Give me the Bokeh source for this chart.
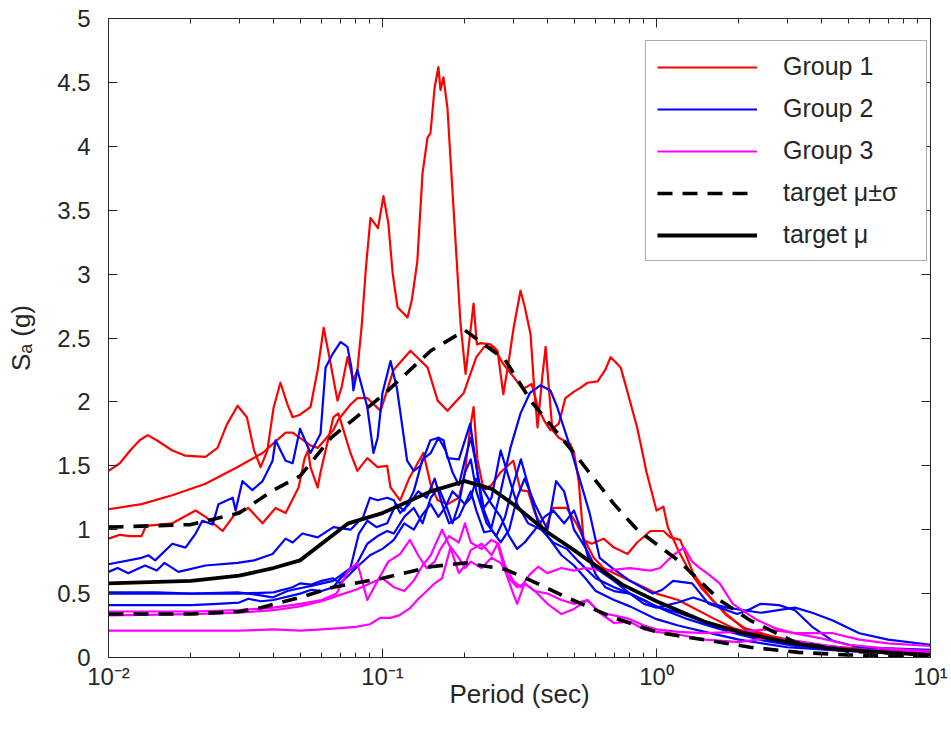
from bokeh.plotting import figure
from bokeh.models import (FixedTicker, LinearAxis, LogAxis, CustomJSTickFormatter,
                          Legend, LegendItem, Range1d)
from bokeh.embed import file_html
from bokeh.resources import INLINE

# ---------------- data: (period [s], Sa [g]) ----------------
group1_curve1 = [(0.010,1.46),(0.011,1.52),(0.012,1.62),(0.013,1.70),(0.0139,1.74),(0.015,1.70),(0.0171,1.62),(0.019,1.58),(0.0226,1.57),(0.025,1.64),(0.027,1.82),(0.0296,1.97),(0.032,1.88),(0.034,1.62),(0.0359,1.49),(0.038,1.62),(0.040,1.95),(0.0424,2.15),(0.045,1.98),(0.047,1.88),(0.050,1.90),(0.0546,1.96),(0.058,2.25),(0.061,2.58),(0.064,2.35),(0.0685,2.01),(0.071,2.12),(0.0745,2.35),(0.0783,2.17),(0.081,2.25),(0.084,2.6),(0.087,3.05),(0.0904,3.44),(0.0963,3.36),(0.1008,3.61),(0.105,3.4),(0.109,3.0),(0.1135,2.74),(0.1234,2.66),(0.128,2.8),(0.134,3.1),(0.140,3.79),(0.146,4.07),(0.1496,4.1),(0.155,4.46),(0.160,4.62),(0.1628,4.44),(0.1669,4.54),(0.1726,4.3),(0.177,3.91),(0.1816,3.52),(0.1927,2.61),(0.201,2.22),(0.208,2.5),(0.215,2.77),(0.221,2.45),(0.228,2.46),(0.248,2.45),(0.263,2.4),(0.276,2.06),(0.288,2.3),(0.301,2.58),(0.319,2.87),(0.330,2.75),(0.347,2.53),(0.358,2.1),(0.368,1.8),(0.383,2.2),(0.394,2.43),(0.405,2.1),(0.417,1.78),(0.44,1.72),(0.485,1.67),(0.50,1.6),(0.52,1.38),(0.542,0.92),(0.58,0.89),(0.641,0.93),(0.70,0.86),(0.784,0.81),(0.85,0.9),(0.95,0.99),(1.06,0.99),(1.125,0.94),(1.22,0.92),(1.36,0.66),(1.57,0.47),(1.8,0.33),(2.1,0.23),(2.6,0.17),(3.2,0.13),(4.2,0.09),(5.5,0.07),(7.5,0.05),(10,0.04)]
group1_curve2 = [(0.010,1.16),(0.0132,1.2),(0.0171,1.27),(0.0226,1.36),(0.0296,1.49),(0.0365,1.6),(0.0397,1.67),(0.0443,1.76),(0.047,1.76),(0.0546,1.66),(0.058,1.64),(0.0662,1.78),(0.069,1.86),(0.0764,1.98),(0.081,2.03),(0.088,2.03),(0.0984,1.93),(0.1097,2.25),(0.1265,2.4),(0.146,2.27),(0.159,2.01),(0.1726,1.93),(0.198,2.07),(0.22,2.35),(0.235,2.43),(0.255,2.43),(0.275,2.3),(0.3,2.2),(0.325,2.1),(0.35,2.14),(0.37,1.95),(0.39,1.85),(0.41,1.78),(0.44,1.83),(0.465,2.03),(0.5,2.08),(0.527,2.11),(0.56,2.15),(0.61,2.16),(0.65,2.25),(0.68,2.35),(0.71,2.31),(0.74,2.27),(0.79,2.05),(0.85,1.8),(0.92,1.45),(1.0,1.15),(1.06,1.18),(1.1,1.02),(1.2,0.84),(1.3,0.7),(1.45,0.55),(1.6,0.45),(1.8,0.34),(2.1,0.22),(2.6,0.16),(3.3,0.11),(4.5,0.07),(6.5,0.05),(10,0.03)]
group1_curve3 = [(0.010,0.93),(0.011,0.96),(0.012,0.95),(0.0132,0.95),(0.0137,1.03),(0.0171,1.05),(0.0208,1.15),(0.0226,1.10),(0.0261,0.99),(0.0291,1.13),(0.0324,1.17),(0.0365,1.05),(0.0407,1.17),(0.0443,1.13),(0.0494,1.33),(0.052,1.56),(0.0535,1.62),(0.0546,1.49),(0.058,1.33),(0.0594,1.45),(0.0662,1.88),(0.069,1.91),(0.0764,1.6),(0.081,1.46),(0.088,1.56),(0.096,1.49),(0.104,1.5),(0.107,1.33),(0.116,1.23),(0.125,1.4),(0.141,1.6),(0.15,1.35),(0.159,1.23),(0.173,1.2),(0.19,1.25),(0.2,1.45),(0.209,1.8),(0.215,1.96),(0.222,1.55),(0.234,1.31),(0.25,1.35),(0.27,1.45),(0.30,1.54),(0.319,1.31),(0.34,1.3),(0.36,1.13),(0.39,0.99),(0.42,1.17),(0.47,1.17),(0.51,1.05),(0.54,0.94),(0.59,0.78),(0.64,0.7),(0.7,0.66),(0.8,0.6),(0.9,0.55),(1.0,0.5),(1.2,0.45),(1.36,0.39),(1.6,0.31),(1.9,0.23),(2.5,0.16),(3.3,0.12),(5,0.07),(10,0.03)]

group2_curve1 = [(0.01,0.73),(0.0132,0.78),(0.014,0.8),(0.0148,0.76),(0.0171,0.89),(0.0191,0.86),(0.0208,0.97),(0.022,1.07),(0.024,1.04),(0.0252,1.2),(0.0284,1.25),(0.0291,1.15),(0.0308,1.38),(0.0335,1.31),(0.0365,1.38),(0.0397,1.54),(0.0407,1.7),(0.0443,1.54),(0.047,1.52),(0.05,1.79),(0.0546,1.6),(0.0594,1.75),(0.062,2.27),(0.066,2.38),(0.0703,2.47),(0.0745,2.43),(0.077,2.27),(0.0783,2.09),(0.081,2.25),(0.088,1.96),(0.0927,1.6),(0.096,1.72),(0.1,2.07),(0.107,2.32),(0.113,2.1),(0.123,1.54),(0.13,1.46),(0.1377,1.5),(0.1496,1.7),(0.16,1.72),(0.167,1.7),(0.1726,1.56),(0.19,1.55),(0.209,1.83),(0.22,1.5),(0.234,1.17),(0.25,1.25),(0.27,1.62),(0.29,1.4),(0.31,1.2),(0.34,1.05),(0.38,1.0),(0.42,0.9),(0.47,0.85),(0.52,0.75),(0.6,0.62),(0.7,0.55),(0.8,0.5),(0.95,0.42),(1.1,0.36),(1.3,0.3),(1.6,0.24),(2.0,0.18),(2.5,0.13),(3.2,0.09),(4.5,0.06),(6.5,0.04),(10,0.03)]
group2_curve2 = [(0.01,0.67),(0.0108,0.7),(0.0118,0.66),(0.0136,0.72),(0.015,0.68),(0.016,0.74),(0.018,0.67),(0.0226,0.72),(0.0296,0.74),(0.034,0.76),(0.0397,0.81),(0.0443,0.93),(0.047,0.9),(0.051,0.97),(0.058,0.94),(0.0662,1.02),(0.0764,1.0),(0.085,1.1),(0.09,1.25),(0.096,1.23),(0.104,1.25),(0.11,1.23),(0.116,1.13),(0.125,1.2),(0.135,1.3),(0.145,1.25),(0.155,1.4),(0.165,1.2),(0.175,1.05),(0.19,1.1),(0.21,1.3),(0.22,1.15),(0.235,0.98),(0.248,0.99),(0.27,1.3),(0.293,1.64),(0.319,1.91),(0.345,2.07),(0.377,2.13),(0.41,2.09),(0.434,1.96),(0.485,1.64),(0.527,1.38),(0.57,1.13),(0.62,0.78),(0.69,0.7),(0.8,0.6),(0.97,0.5),(1.05,0.53),(1.15,0.6),(1.35,0.58),(1.55,0.42),(1.97,0.34),(2.2,0.38),(2.4,0.42),(2.8,0.41),(3.2,0.37),(3.7,0.24),(4.4,0.13),(5.5,0.08),(7.5,0.07),(10,0.06)]
group2_curve3 = [(0.01,0.51),(0.015,0.51),(0.02,0.5),(0.0296,0.51),(0.035,0.49),(0.0397,0.47),(0.045,0.52),(0.0494,0.54),(0.055,0.56),(0.066,0.6),(0.0764,0.7),(0.082,0.97),(0.088,1.07),(0.095,1.02),(0.104,1.05),(0.112,1.2),(0.12,1.15),(0.13,1.3),(0.14,1.55),(0.15,1.6),(0.16,1.72),(0.17,1.62),(0.18,1.45),(0.19,1.35),(0.2,1.55),(0.21,1.72),(0.22,1.5),(0.23,1.2),(0.25,1.0),(0.27,0.9),(0.29,1.0),(0.31,1.25),(0.33,1.4),(0.36,1.2),(0.4,1.0),(0.43,1.38),(0.46,1.3),(0.5,1.0),(0.55,0.86),(0.6,0.7),(0.7,0.6),(0.8,0.5),(0.9,0.42),(1.0,0.39),(1.2,0.43),(1.36,0.47),(1.6,0.42),(1.8,0.39),(2.4,0.35),(3.2,0.39),(3.7,0.35),(4.4,0.29),(5.5,0.19),(7,0.14),(10,0.1)]
group2_curve4 = [(0.01,0.41),(0.015,0.41),(0.02,0.41),(0.025,0.42),(0.03,0.43),(0.0324,0.46),(0.036,0.44),(0.04,0.45),(0.05,0.5),(0.055,0.53),(0.06,0.52),(0.066,0.55),(0.071,0.63),(0.08,0.72),(0.088,0.89),(0.096,0.95),(0.104,0.99),(0.11,0.97),(0.12,1.1),(0.13,1.17),(0.14,1.05),(0.15,1.25),(0.16,1.33),(0.17,1.2),(0.18,1.05),(0.19,1.2),(0.2,1.45),(0.21,1.55),(0.22,1.3),(0.24,1.05),(0.26,0.95),(0.28,1.1),(0.3,1.35),(0.32,1.55),(0.34,1.35),(0.37,1.05),(0.4,0.95),(0.45,0.8),(0.5,0.72),(0.55,0.62),(0.6,0.52),(0.7,0.45),(0.8,0.4),(1.0,0.3),(1.2,0.25),(1.5,0.2),(2.0,0.14),(3.0,0.08),(5,0.05),(10,0.03)]
group2_curve5 = [(0.01,0.5),(0.02,0.5),(0.03,0.5),(0.04,0.51),(0.047,0.55),(0.05,0.58),(0.055,0.57),(0.06,0.6),(0.066,0.62),(0.07,0.58),(0.075,0.64),(0.08,0.7),(0.09,0.8),(0.1,0.85),(0.11,0.92),(0.12,1.05),(0.13,1.0),(0.14,1.12),(0.15,1.2),(0.16,1.1),(0.17,1.18),(0.18,1.3),(0.19,1.25),(0.2,1.2),(0.21,1.25),(0.22,1.4),(0.235,1.3),(0.25,1.2),(0.27,1.1),(0.29,0.95),(0.31,0.85),(0.33,0.9),(0.36,1.0),(0.39,1.1),(0.42,1.15),(0.46,1.05),(0.5,1.15),(0.53,1.0),(0.56,0.8),(0.6,0.65),(0.65,0.55),(0.7,0.52),(0.8,0.5),(0.9,0.45),(1.0,0.4),(1.2,0.35),(1.5,0.28),(2,0.2),(2.5,0.14),(3.2,0.1),(5,0.06),(10,0.04)]

group3_curve1 = [(0.01,0.21),(0.02,0.21),(0.03,0.21),(0.04,0.22),(0.05,0.21),(0.06,0.22),(0.07,0.23),(0.08,0.24),(0.09,0.26),(0.098,0.31),(0.107,0.31),(0.115,0.33),(0.125,0.38),(0.134,0.45),(0.145,0.52),(0.155,0.58),(0.165,0.62),(0.177,0.86),(0.19,0.66),(0.2,0.72),(0.21,0.84),(0.23,0.89),(0.25,0.8),(0.263,0.89),(0.28,0.68),(0.3,0.5),(0.31,0.42),(0.33,0.58),(0.36,0.52),(0.4,0.42),(0.45,0.34),(0.5,0.38),(0.56,0.45),(0.62,0.35),(0.7,0.27),(0.8,0.28),(0.9,0.22),(1.0,0.2),(1.2,0.18),(1.5,0.14),(2,0.12),(2.5,0.15),(3,0.14),(4,0.1),(5,0.07),(7,0.05),(10,0.04)]
group3_curve2 = [(0.01,0.36),(0.02,0.36),(0.03,0.37),(0.04,0.39),(0.05,0.42),(0.06,0.45),(0.068,0.5),(0.075,0.68),(0.081,0.74),(0.088,0.45),(0.096,0.6),(0.105,0.75),(0.116,0.81),(0.126,0.92),(0.135,0.8),(0.145,0.7),(0.155,0.75),(0.163,0.85),(0.175,0.95),(0.19,0.9),(0.2,1.05),(0.21,0.9),(0.23,0.85),(0.25,0.92),(0.265,0.89),(0.28,0.72),(0.3,0.6),(0.32,0.55),(0.345,0.65),(0.37,0.71),(0.4,0.66),(0.45,0.7),(0.5,0.68),(0.55,0.7),(0.65,0.68),(0.8,0.7),(0.95,0.68),(1.03,0.7),(1.15,0.8),(1.26,0.86),(1.35,0.75),(1.44,0.7),(1.55,0.65),(1.7,0.58),(1.9,0.42),(2.3,0.3),(2.7,0.23),(3.2,0.19),(4.4,0.19),(5.5,0.14),(7,0.11),(10,0.09)]
group3_curve3 = [(0.01,0.33),(0.02,0.34),(0.03,0.35),(0.04,0.37),(0.05,0.4),(0.06,0.44),(0.07,0.49),(0.08,0.53),(0.09,0.58),(0.1,0.62),(0.11,0.55),(0.12,0.52),(0.13,0.6),(0.14,0.72),(0.15,0.8),(0.165,1.0),(0.175,0.88),(0.19,0.78),(0.2,0.7),(0.21,0.75),(0.23,0.7),(0.25,0.78),(0.27,0.74),(0.29,0.62),(0.31,0.55),(0.33,0.58),(0.36,0.52),(0.4,0.5),(0.45,0.45),(0.5,0.42),(0.56,0.45),(0.62,0.35),(0.7,0.33),(0.8,0.3),(0.9,0.25),(1.0,0.22),(1.2,0.2),(1.5,0.19),(2,0.2),(2.5,0.22),(3,0.2),(4,0.15),(5,0.1),(7,0.07),(10,0.05)]

target_period = [0.01, 0.02, 0.03, 0.04, 0.05, 0.075, 0.1, 0.15, 0.2, 0.25, 0.3, 0.4, 0.5, 0.75, 1.0, 1.5, 2.0, 3.0, 4.0, 5.0, 7.5, 10.0]
target_mean = [0.58, 0.60, 0.64, 0.70, 0.76, 1.05, 1.13, 1.30, 1.38, 1.32, 1.20, 0.98, 0.84, 0.57, 0.44, 0.28, 0.20, 0.12, 0.08, 0.06, 0.035, 0.02]
upper_period = [0.01, 0.02, 0.03, 0.04, 0.05, 0.065, 0.1, 0.15, 0.2, 0.28, 0.35, 0.5, 0.7, 0.85, 1.2, 1.7, 2.2, 3.2, 5.0, 10.0]
target_upper = [1.02, 1.04, 1.13, 1.31, 1.42, 1.72, 2.05, 2.40, 2.56, 2.33, 2.00, 1.60, 1.20, 1.00, 0.76, 0.45, 0.29, 0.12, 0.05, 0.02]
lower_period = [0.01, 0.02, 0.03, 0.036, 0.05, 0.066, 0.1, 0.15, 0.2, 0.28, 0.35, 0.47, 0.7, 1.0, 1.2, 1.7, 2.2, 3.3, 5.0, 10.0]
target_lower = [0.34, 0.34, 0.36, 0.39, 0.47, 0.55, 0.62, 0.71, 0.74, 0.69, 0.60, 0.47, 0.31, 0.20, 0.17, 0.12, 0.08, 0.04, 0.02, 0.01]

group1 = [group1_curve1, group1_curve2, group1_curve3]
group2 = [group2_curve1, group2_curve2, group2_curve3, group2_curve4, group2_curve5]
group3 = [group3_curve1, group3_curve2, group3_curve3]

x_decades = [0.01, 0.1, 1, 10]
x_minor = [m * d for d in [0.01, 0.1, 1] for m in range(2, 10)]
y_ticks = [0, 0.5, 1, 1.5, 2, 2.5, 3, 3.5, 4, 4.5, 5]

FONT = "Liberation Sans"
AX = "#262626"

p = figure(width=951, height=743, x_axis_type="log",
           x_range=Range1d(0.01, 10), y_range=Range1d(0, 5),
           output_backend="svg", toolbar_location=None,
           min_border_left=108, min_border_right=21,
           min_border_top=18, min_border_bottom=86)
p.grid.visible = False
p.outline_line_color = AX
p.outline_line_width = 1
p.background_fill_color = "white"
p.border_fill_color = "white"

xt = FixedTicker(ticks=x_decades, minor_ticks=x_minor)
yt = FixedTicker(ticks=y_ticks, minor_ticks=[])

sup_code = """
const e = Math.round(Math.log10(tick));
const m = {'-':'\u207b','0':'\u2070','1':'\u00b9','2':'\u00b2','3':'\u00b3'};
return '10' + String(e).split('').map(c => m[c]).join('');
"""

def style_axis(ax, labels=True):
    ax.axis_line_color = AX
    ax.major_tick_line_color = AX
    ax.minor_tick_line_color = AX
    ax.major_tick_in = 9
    ax.major_tick_out = 0
    ax.minor_tick_in = 5
    ax.minor_tick_out = 0
    ax.major_label_text_font = FONT
    ax.axis_label_text_font = FONT
    ax.axis_label_text_color = AX
    ax.axis_label_text_font_style = "normal"
    if labels:
        ax.major_label_text_color = AX
        ax.major_label_text_font_size = "24px"
        ax.axis_label_text_font_size = "26px"
    else:
        ax.major_label_text_color = None
        ax.major_label_text_font_size = "6px"
        ax.major_label_standoff = 0

xa = p.xaxis[0]
xa.ticker = xt
xa.formatter = CustomJSTickFormatter(code=sup_code)
xa.axis_label = "Period (sec)"
style_axis(xa)
xa.major_label_standoff = 5
xa.axis_label_standoff = -14

ya = p.yaxis[0]
ya.ticker = yt
ya.formatter = CustomJSTickFormatter(code="return String(tick);")
ya.axis_label = "S\u2090 (g)"
style_axis(ya)
ya.major_label_standoff = 18
ya.axis_label_standoff = 18

ra = LinearAxis(ticker=yt)
style_axis(ra, labels=False)
p.add_layout(ra, "right")
ta = LogAxis(ticker=xt)
style_axis(ta, labels=False)
p.add_layout(ta, "above")

def draw(curve, color):
    t = [a for a, b in curve]
    s = [b for a, b in curve]
    return p.line(t, s, line_color=color, line_width=2.2, line_join="round")

r1 = [draw(c, "#ff0000") for c in group1]
r2 = [draw(c, "#0000ff") for c in group2]
r3 = [draw(c, "#ff00ff") for c in group3]

rd = p.line(upper_period, target_upper, line_color="black", line_width=3.6, line_dash="15 10")
p.line(lower_period, target_lower, line_color="black", line_width=3.6, line_dash="15 10")
rm = p.line(target_period, target_mean, line_color="black", line_width=3.8, line_join="round")

legend = Legend(items=[
    LegendItem(label="Group 1", renderers=[r1[0]]),
    LegendItem(label="Group 2", renderers=[r2[0]]),
    LegendItem(label="Group 3", renderers=[r3[0]]),
    LegendItem(label="target \u03bc\u00b1\u03c3", renderers=[rd]),
    LegendItem(label="target \u03bc", renderers=[rm]),
], location=(537, 396))
legend.label_text_font = FONT
legend.label_text_font_size = "25px"
legend.label_text_color = AX
legend.glyph_width = 100
legend.glyph_height = 24
legend.label_height = 24
legend.label_width = 132
legend.spacing = 13
legend.padding = 11
legend.label_standoff = 26
legend.margin = 0
legend.border_line_color = "#555555"
legend.border_line_width = 1
legend.background_fill_color = "white"
legend.background_fill_alpha = 1
p.add_layout(legend)

open("out.html", "w", encoding="utf-8").write(file_html(p, INLINE))
